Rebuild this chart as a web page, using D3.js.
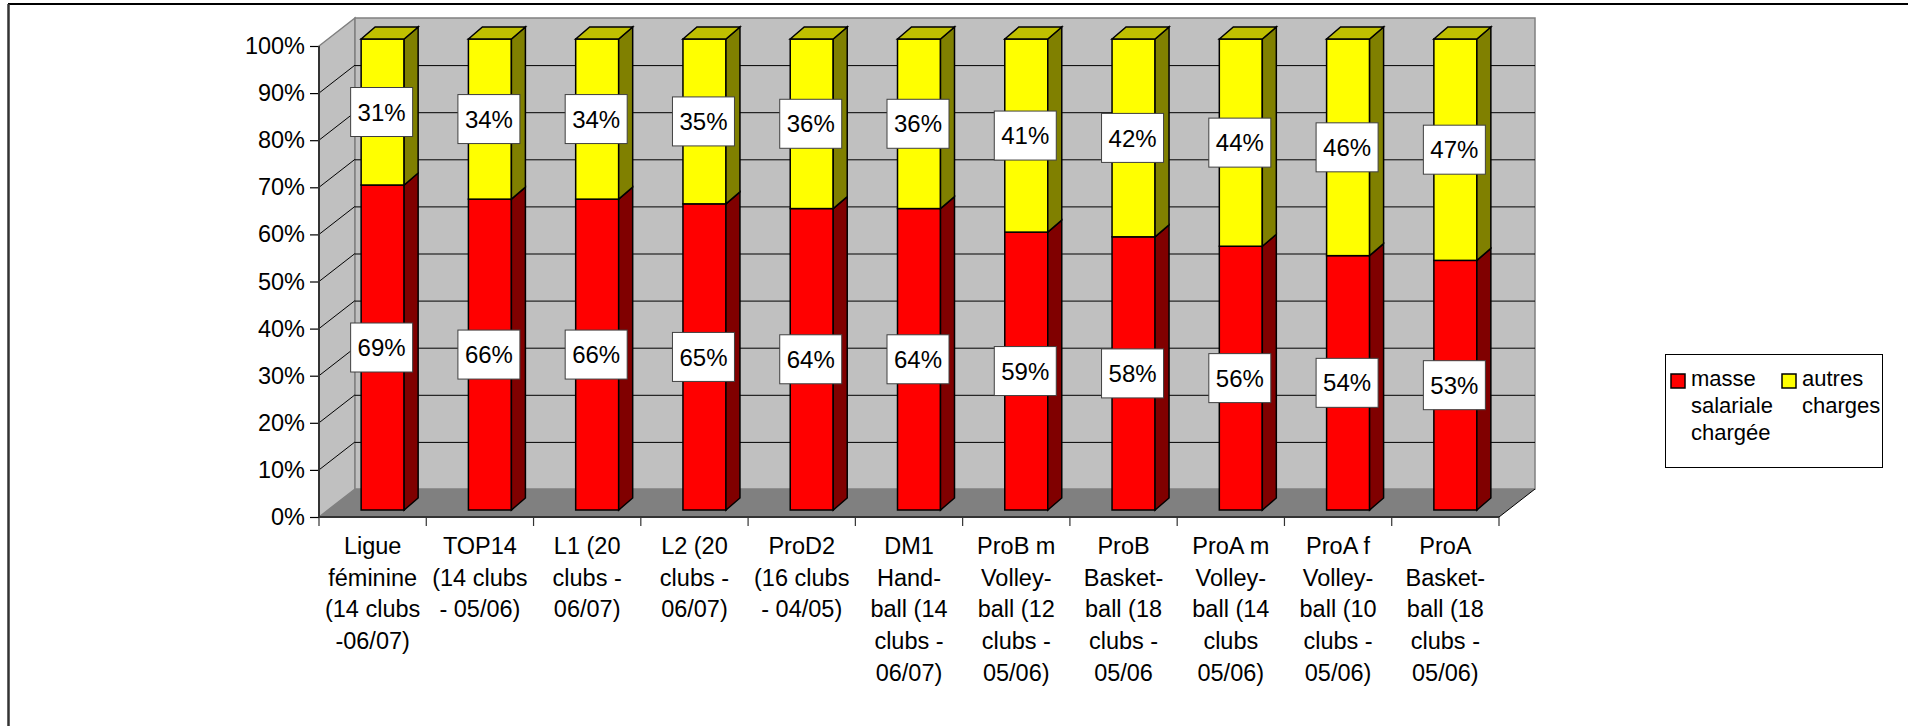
<!DOCTYPE html>
<html>
<head>
<meta charset="utf-8">
<script src="https://cdn.jsdelivr.net/npm/d3@7"></script>
<style>
  body { margin: 0; background: #fff; }
  text { font-family: "Liberation Sans", Arial, sans-serif; fill: #000; }
</style>
</head>
<body>
<script>
// category labels, already wrapped as in the original
var categories = [
    ["Ligue", "féminine", "(14 clubs", "-06/07)"],
    ["TOP14", "(14 clubs", "- 05/06)"],
    ["L1 (20", "clubs -", "06/07)"],
    ["L2 (20", "clubs -", "06/07)"],
    ["ProD2", "(16 clubs", "- 04/05)"],
    ["DM1", "Hand-", "ball (14", "clubs -", "06/07)"],
    ["ProB m", "Volley-", "ball (12", "clubs -", "05/06)"],
    ["ProB", "Basket-", "ball (18", "clubs -", "05/06"],
    ["ProA m", "Volley-", "ball (14", "clubs", "05/06)"],
    ["ProA f", "Volley-", "ball (10", "clubs -", "05/06)"],
    ["ProA", "Basket-", "ball (18", "clubs -", "05/06)"]
];
var masse = [69, 66, 66, 65, 64, 64, 59, 58, 56, 54, 53];
var autres = [31, 34, 34, 35, 36, 36, 41, 42, 44, 46, 47];
var yTicks = [0, 10, 20, 30, 40, 50, 60, 70, 80, 90, 100];
var seriesNames = [["masse", "salariale", "chargée"], ["autres", "charges"]];

//Width and height
var w = 1908;
var h = 726;

// plot box (front plane) and 3D depth of the walls
var pLeft = 319, pRight = 1499, pTop = 46, pBottom = 517;
var depthX = 36, depthY = 28;
// bars sit a bit inside the depth
var barOffX = 10, barOffY = 7, barSideX = 14, barSideY = 12, barW = 43;

var x = d3.scaleBand()
    .domain(d3.range(categories.length))
    .range([pLeft, pRight])
    .padding(0);

var y = d3.scaleLinear()
    .domain([0, 100])
    .range([pBottom, pTop]);

var svg = d3.select("body")
    .append("svg")
    .attr("width", w)
    .attr("height", h);

// outer frame (top and left only)
svg.append("line").attr("x1", 8).attr("x2", w).attr("y1", 4).attr("y2", 4)
    .attr("stroke", "#000").attr("stroke-width", 2);
svg.append("line").attr("x1", 8.5).attr("x2", 8.5).attr("y1", 4).attr("y2", h)
    .attr("stroke", "#333").attr("stroke-width", 2.5);

function pts(arr) {
    return arr.map(function(p) { return p.join(","); }).join(" ");
}

// walls and floor
svg.append("polygon")
    .attr("points", pts([[pLeft, pBottom], [pLeft, pTop], [pLeft + depthX, pTop - depthY], [pLeft + depthX, pBottom - depthY]]))
    .attr("fill", "#c0c0c0").attr("stroke", "#808080").attr("stroke-width", 1.5);
svg.append("polygon")
    .attr("points", pts([[pLeft + depthX, pTop - depthY], [pRight + depthX, pTop - depthY], [pRight + depthX, pBottom - depthY], [pLeft + depthX, pBottom - depthY]]))
    .attr("fill", "#c0c0c0").attr("stroke", "#808080").attr("stroke-width", 1.5);
svg.append("polygon")
    .attr("points", pts([[pLeft, pBottom], [pLeft + depthX, pBottom - depthY], [pRight + depthX, pBottom - depthY], [pRight, pBottom]]))
    .attr("fill", "#808080").attr("stroke", "none");
svg.append("line")
    .attr("x1", pRight).attr("y1", pBottom).attr("x2", pRight + depthX).attr("y2", pBottom - depthY)
    .attr("stroke", "#000").attr("stroke-width", 1);

// gridlines, side wall then back wall
var grid = yTicks.filter(function(d) { return d > 0 && d < 100; });
svg.selectAll(".gside")
    .data(grid).enter().append("line")
    .attr("x1", pLeft).attr("y1", function(d) { return y(d); })
    .attr("x2", pLeft + depthX).attr("y2", function(d) { return y(d) - depthY; })
    .attr("stroke", "#000").attr("stroke-width", 1);
svg.selectAll(".gback")
    .data(grid).enter().append("line")
    .attr("x1", pLeft + depthX).attr("y1", function(d) { return y(d) - depthY + 0.5; })
    .attr("x2", pRight + depthX).attr("y2", function(d) { return y(d) - depthY + 0.5; })
    .attr("stroke", "#000").attr("stroke-width", 1);

// one entry per bar segment
var segs = [];
categories.forEach(function(c, i) {
    segs.push({i: i, v0: 0, v1: masse[i], val: masse[i], front: "#ff0000", side: "#800000", topc: null});
    segs.push({i: i, v0: masse[i], v1: masse[i] + autres[i], val: autres[i], front: "#ffff00", side: "#808000", topc: "#c0c000"});
});

function bx(d) { return x(d.i) + x.bandwidth() / 2 + barOffX - barW / 2; }

var bars = svg.append("g").attr("class", "bars");
segs.forEach(function(d) {
    var x0 = bx(d), x1 = x0 + barW;
    var yt = y(d.v1) - barOffY, yb = y(d.v0) - barOffY;
    bars.append("rect")
        .attr("x", x0).attr("y", yt).attr("width", barW).attr("height", yb - yt)
        .attr("fill", d.front).attr("stroke", "#000").attr("stroke-width", 1.5);
    bars.append("polygon")
        .attr("points", pts([[x1, yt], [x1 + barSideX, yt - barSideY], [x1 + barSideX, yb - barSideY], [x1, yb]]))
        .attr("fill", d.side).attr("stroke", "#000").attr("stroke-width", 1.5);
    if (d.topc) {
        bars.append("polygon")
            .attr("points", pts([[x0, yt], [x0 + barSideX, yt - barSideY], [x1 + barSideX, yt - barSideY], [x1, yt]]))
            .attr("fill", d.topc).attr("stroke", "#000").attr("stroke-width", 1.5);
    }
});

// data labels
var lab = svg.selectAll(".lab")
    .data(segs).enter().append("g")
    .attr("class", "lab")
    .attr("transform", function(d) {
        return "translate(" + (bx(d) + barW / 2 - 1) + "," + ((y(d.v0) + y(d.v1)) / 2 - barOffY) + ")";
    });
lab.append("rect")
    .attr("x", -31).attr("y", -24.5).attr("width", 62).attr("height", 49)
    .attr("fill", "#fff").attr("stroke", "#404040").attr("stroke-width", 1);
lab.append("text")
    .attr("text-anchor", "middle").attr("dy", "0.36em")
    .style("font-size", "24px")
    .text(function(d) { return d.val + "%"; });

// y axis
var yAxis = d3.axisLeft(y)
    .tickValues(yTicks)
    .tickSize(9)
    .tickPadding(5)
    .tickFormat(function(d) { return d + "%"; });
var ya = svg.append("g")
    .attr("transform", "translate(" + pLeft + ",0)")
    .call(yAxis);
ya.select(".domain").remove();
ya.selectAll(".tick line").attr("stroke", "#000").attr("stroke-width", 1.2);
ya.selectAll("text").style("font-size", "23.5px").attr("fill", "#000");

// front axis lines
svg.append("line").attr("x1", pLeft).attr("x2", pLeft).attr("y1", pTop).attr("y2", pBottom)
    .attr("stroke", "#333").attr("stroke-width", 2);
svg.append("line").attr("x1", pLeft).attr("x2", pRight).attr("y1", pBottom).attr("y2", pBottom)
    .attr("stroke", "#333").attr("stroke-width", 2);

// category ticks and labels
svg.selectAll(".xtick")
    .data(d3.range(categories.length + 1)).enter().append("line")
    .attr("x1", function(d) { return pLeft + d * x.step(); })
    .attr("x2", function(d) { return pLeft + d * x.step(); })
    .attr("y1", pBottom).attr("y2", pBottom + 9)
    .attr("stroke", "#333").attr("stroke-width", 1.2);

var xl = svg.selectAll(".xlab")
    .data(categories).enter().append("text")
    .attr("class", "xlab")
    .attr("text-anchor", "middle")
    .style("font-size", "23.5px");
xl.selectAll("tspan")
    .data(function(d, i) { return d.map(function(s) { return {s: s, i: i}; }); })
    .enter().append("tspan")
    .attr("x", function(d) { return x(d.i) + x.bandwidth() / 2; })
    .attr("y", function(d, j) { return 554 + j * 31.7; })
    .text(function(d) { return d.s; });

// legend
var legend = svg.append("g").attr("class", "legend");
legend.append("rect")
    .attr("x", 1665.5).attr("y", 354.5).attr("width", 217).attr("height", 113)
    .attr("fill", "#fff").attr("stroke", "#000").attr("stroke-width", 1);
var legX = [1671, 1782];
var legCol = ["#ff0000", "#ffff00"];
seriesNames.forEach(function(lines, k) {
    legend.append("rect")
        .attr("x", legX[k]).attr("y", 374).attr("width", 14).attr("height", 14)
        .attr("fill", legCol[k]).attr("stroke", "#000").attr("stroke-width", 1.5);
    var t = legend.append("text").style("font-size", "22px");
    lines.forEach(function(s, j) {
        t.append("tspan")
            .attr("x", legX[k] + 20)
            .attr("y", 386 + j * 27)
            .text(s);
    });
});
</script>
</body>
</html>
